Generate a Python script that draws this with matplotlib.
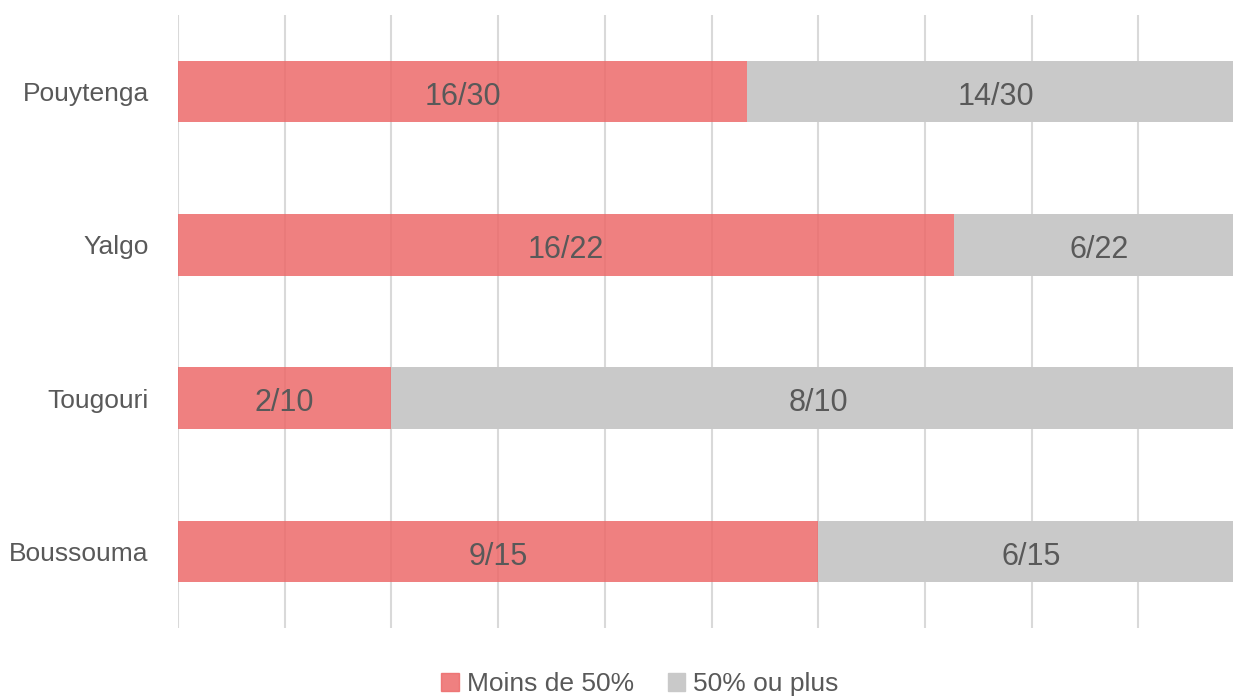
import matplotlib
matplotlib.use("Agg")
import matplotlib.pyplot as plt
from matplotlib.patches import Patch

# Données
villes = ["Pouytenga", "Yalgo", "Tougouri", "Boussouma"]
moins_50 = [16, 16, 2, 9]
plus_50 = [14, 6, 8, 6]
totaux = [30, 22, 10, 15]

rouge = "#ED6A6A"
gris = "#C9C9C9"
texte = "#595959"

plt.rcParams["font.family"] = ["Liberation Sans", "DejaVu Sans"]

fig = plt.figure(figsize=(12.33, 6.97), dpi=100)
ax = fig.add_axes([178 / 1233, 1 - 628 / 697, 1067 / 1233, 613 / 697])

y = list(range(len(villes)))
part_a = [m / t for m, t in zip(moins_50, totaux)]
part_b = [p / t for p, t in zip(plus_50, totaux)]

ax.barh(y, part_a, height=0.4, color=rouge, alpha=0.85, zorder=3)
ax.barh(y, part_b, left=part_a, height=0.4, color=gris, zorder=3)

for i in y:
    ax.text(part_a[i] / 2, i + 0.035, f"{moins_50[i]}/{totaux[i]}",
            ha="center", va="center", fontsize=22, color=texte, zorder=4)
    ax.text(part_a[i] + part_b[i] / 2, i + 0.035, f"{plus_50[i]}/{totaux[i]}",
            ha="center", va="center", fontsize=22, color=texte, zorder=4)

ax.set_xlim(0, 1)
ax.set_ylim(3.5, -0.5)
ax.set_xticks([k / 10 for k in range(11)])
ax.set_xticklabels([])
ax.tick_params(axis="x", length=0)
ax.tick_params(axis="y", length=0, pad=21)
ax.set_yticks(y)
ax.set_yticklabels(villes, fontsize=19, color=texte)
ax.grid(axis="x", color="#D9D9D9", linewidth=1.5, zorder=0)
for s in ax.spines.values():
    s.set_visible(False)

handles = [Patch(color=rouge, alpha=0.85, label="Moins de 50%"),
           Patch(color=gris, label="50% ou plus")]
fig.legend(handles=handles, loc="lower center", bbox_to_anchor=(0.519, -0.033),
           ncol=2, frameon=False, fontsize=19, labelcolor=texte,
           handlelength=0.65, handleheight=0.65, handletextpad=0.3,
           columnspacing=1.3)

fig.savefig("out.png", dpi=100)
